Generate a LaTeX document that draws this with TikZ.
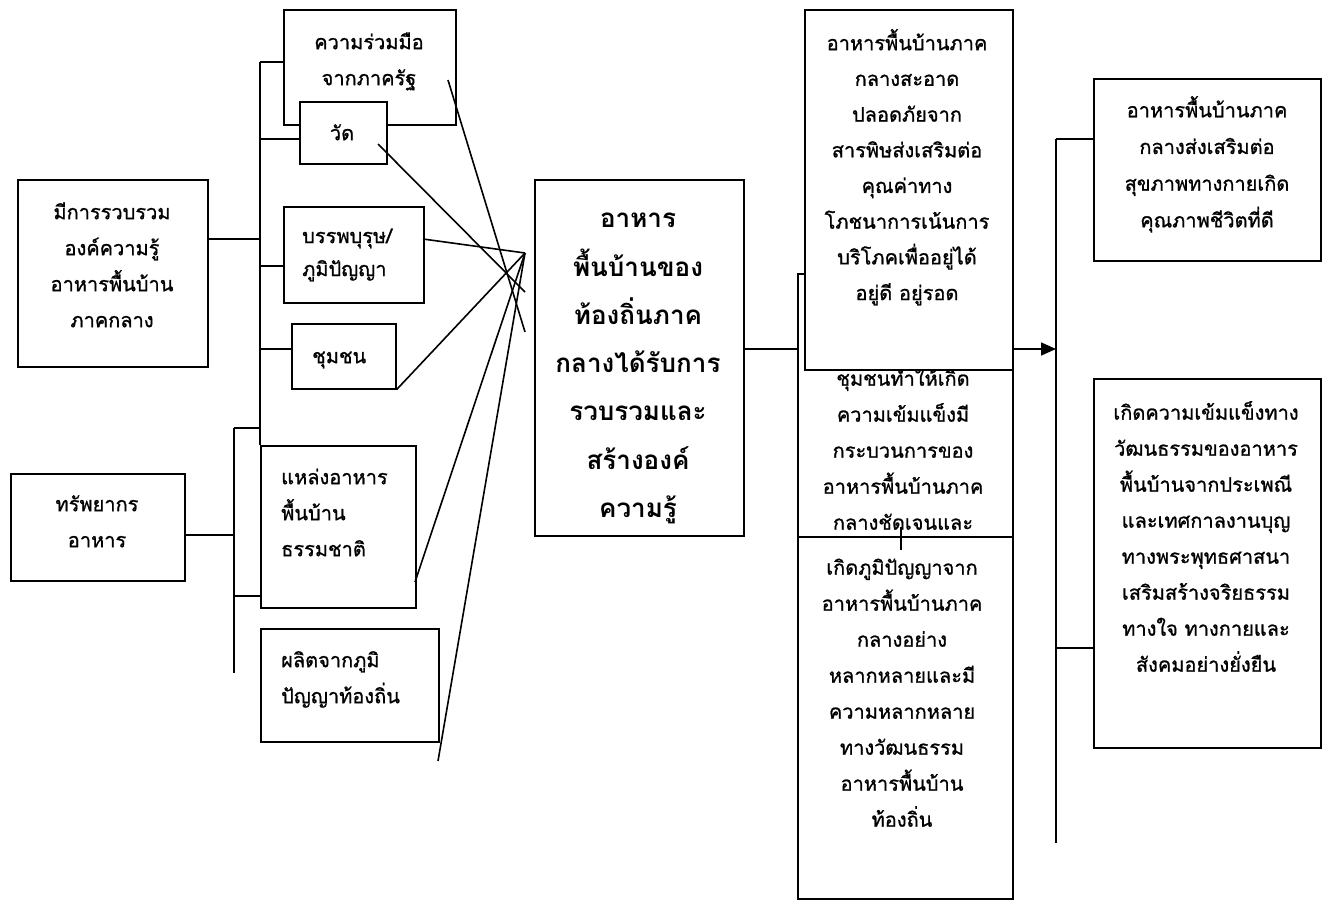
\documentclass[tikz,border=0pt]{standalone}
\usepackage{fontspec}
\newfontfamily\thaifont[Script=Thai,FakeBold=1]{Loma}
\newfontfamily\thaifontb[Script=Thai]{Loma Bold}
\usetikzlibrary{arrows.meta}
\tikzset{
  box/.style={draw, line width=1.6pt, fill=white, inner sep=0pt, anchor=north west},
  txt/.style={font=\thaifont\fontsize{20}{36}\selectfont, align=center, inner sep=0pt},
  txtl/.style={font=\thaifont\fontsize{20}{36}\selectfont, align=left, inner sep=0pt, anchor=west},
  txtb/.style={font=\thaifontb\fontsize{26}{48.3}\selectfont, align=center, inner sep=0pt},
  conn/.style={line width=1.6pt},
}
\begin{document}
\begin{tikzpicture}[x=1pt,y=-1pt]
\useasboundingbox (0,0) rectangle (1327,900);
% ---- left group boxes
\node[box, minimum width=172pt, minimum height=115pt] (A) at (283,9) {};
\node[txt] (tA) at (369,60) {\strut ความร่วมมือ\\\strut จากภาครัฐ};
\node[box, minimum width=87pt, minimum height=62pt] (W) at (299,101) {};
\node[txt] (tW) at (342,133) {\strut วัด};
\node[box, minimum width=190pt, minimum height=187pt] (L) at (17,179) {};
\node[txt] (tL) at (112,266) {\strut มีการรวบรวม\\\strut องค์ความรู้\\\strut อาหารพื้นบ้าน\\\strut ภาคกลาง};
\node[box, minimum width=140pt, minimum height=96pt] (B) at (283,206) {};
\node[txtl, font=\thaifont\fontsize{20}{33}\selectfont] (tB) at (302,253) {\strut บรรพบุรุษ/\\\strut ภูมิปัญญา};
\node[box, minimum width=104pt, minimum height=65pt] (C) at (291,323) {};
\node[txtl] (tC) at (312,356) {\strut ชุมชน};
\node[box, minimum width=174pt, minimum height=107pt] (T) at (10,473) {};
\node[txt] (tT) at (97,522) {\strut ทรัพยากร\\\strut อาหาร};
\node[box, minimum width=155pt, minimum height=162pt] (N) at (260,445) {};
\node[txtl] (tN) at (281,513) {\strut แหล่งอาหาร\\\strut พื้นบ้าน\\\strut ธรรมชาติ};
\node[box, minimum width=178pt, minimum height=113pt] (P) at (260,628) {};
\node[txtl] (tP) at (281,678) {\strut ผลิตจากภูมิ\\\strut ปัญญาท้องถิ่น};
% ---- centre box
\node[box, minimum width=209pt, minimum height=356pt] (M) at (534,179) {};
\node[txtb] (tM) at (638,363) {\strut อาหาร\\\strut พื้นบ้านของ\\\strut ท้องถิ่นภาค\\\strut กลางได้รับการ\\\strut รวบรวมและ\\\strut สร้างองค์\\\strut ความรู้};
% ---- middle-right column
\node[box, minimum width=215pt, minimum height=267pt] (B2) at (797,273) {};
\node[txt] (tB2) at (903,450.5) {\strut ชุมชนทำให้เกิด\\\strut ความเข้มแข็งมี\\\strut กระบวนการของ\\\strut อาหารพื้นบ้านภาค\\\strut กลางชัดเจนและ};
\node[box, minimum width=208pt, minimum height=360pt] (B1) at (804,9) {};
\node[txt, font=\thaifont\fontsize{20}{35.7}\selectfont] (tB1) at (907,168) {\strut อาหารพื้นบ้านภาค\\\strut กลางสะอาด\\\strut ปลอดภัยจาก\\\strut สารพิษส่งเสริมต่อ\\\strut คุณค่าทาง\\\strut โภชนาการเน้นการ\\\strut บริโภคเพื่ออยู่ได้\\\strut อยู่ดี อยู่รอด};
\node[box, minimum width=215pt, minimum height=362pt] (B3) at (797,536) {};
\node[txt] (tB3) at (902,693.5) {\strut เกิดภูมิปัญญาจาก\\\strut อาหารพื้นบ้านภาค\\\strut กลางอย่าง\\\strut หลากหลายและมี\\\strut ความหลากหลาย\\\strut ทางวัฒนธรรม\\\strut อาหารพื้นบ้าน\\\strut ท้องถิ่น};
\coordinate (tk1) at (901,527);
\coordinate (tk2) at (901,550);
\draw[conn] (tk1) -- (tk2);
% ---- right column
\node[box, minimum width=227pt, minimum height=182pt] (R1) at (1093,78) {};
\node[txt, font=\thaifont\fontsize{20}{36.7}\selectfont] (tR1) at (1207,165) {\strut อาหารพื้นบ้านภาค\\\strut กลางส่งเสริมต่อ\\\strut สุขภาพทางกายเกิด\\\strut คุณภาพชีวิตที่ดี};
\node[box, minimum width=227pt, minimum height=369pt] (R2) at (1093,378) {};
\node[txt] (tR2) at (1206,538.5) {\strut เกิดความเข้มแข็งทาง\\\strut วัฒนธรรมของอาหาร\\\strut พื้นบ้านจากประเพณี\\\strut และเทศกาลงานบุญ\\\strut ทางพระพุทธศาสนา\\\strut เสริมสร้างจริยธรรม\\\strut ทางใจ ทางกายและ\\\strut สังคมอย่างยั่งยืน};
% ---- left tree connectors
\coordinate (v0) at (260,62);
\coordinate (v1) at (260,139);
\coordinate (v2) at (260,239);
\coordinate (v3) at (260,266);
\coordinate (v4) at (260,349);
\draw[conn] (v0) -- (N.north west);
\draw[conn] (v0) -- (v0 -| A.west);
\draw[conn] (v1) -- (v1 -| W.west);
\draw[conn] (v2 -| L.east) -- (v2);
\draw[conn] (v3) -- (v3 -| B.west);
\draw[conn] (v4) -- (v4 -| C.west);
\coordinate (u0) at (234,535);
\coordinate (u1) at (234,428);
\coordinate (u2) at (234,673);
\coordinate (u3) at (234,596);
\draw[conn] (u0 -| T.east) -- (u0);
\draw[conn] (u1) -- (u2);
\draw[conn] (u1) -- (u1 -| N.west);
\draw[conn] (u3) -- (u3 -| N.west);
% ---- converging lines
\coordinate (hub) at (525,253);
\coordinate (a1) at (448,80);
\coordinate (a2) at (525,332);
\coordinate (w1) at (378,144);
\coordinate (w2) at (525,292);
\coordinate (b1) at (423,239);
\coordinate (n1) at (415,582);
\coordinate (p1) at (438,761);
\draw[conn] (a1) -- (a2);
\draw[conn] (w1) -- (w2);
\draw[conn] (b1) -- (hub);
\draw[conn] (C.south east) -- (hub);
\draw[conn] (n1) -- (hub);
\draw[conn] (p1) -- (hub);
% ---- centre to right
\coordinate (j) at (797,349);
\draw[conn] (j -| M.east) -- (j);
\coordinate (k) at (1056,349);
\draw[conn, -{Triangle[length=15pt,width=13pt]}] (k -| B1.east) -- (k);
\coordinate (r0) at (1056,139);
\coordinate (r1) at (1056,843);
\coordinate (r2) at (1056,648);
\draw[conn] (r0) -- (r1);
\draw[conn] (r0) -- (r0 -| R1.west);
\draw[conn] (r2) -- (r2 -| R2.west);
\end{tikzpicture}
\end{document}
